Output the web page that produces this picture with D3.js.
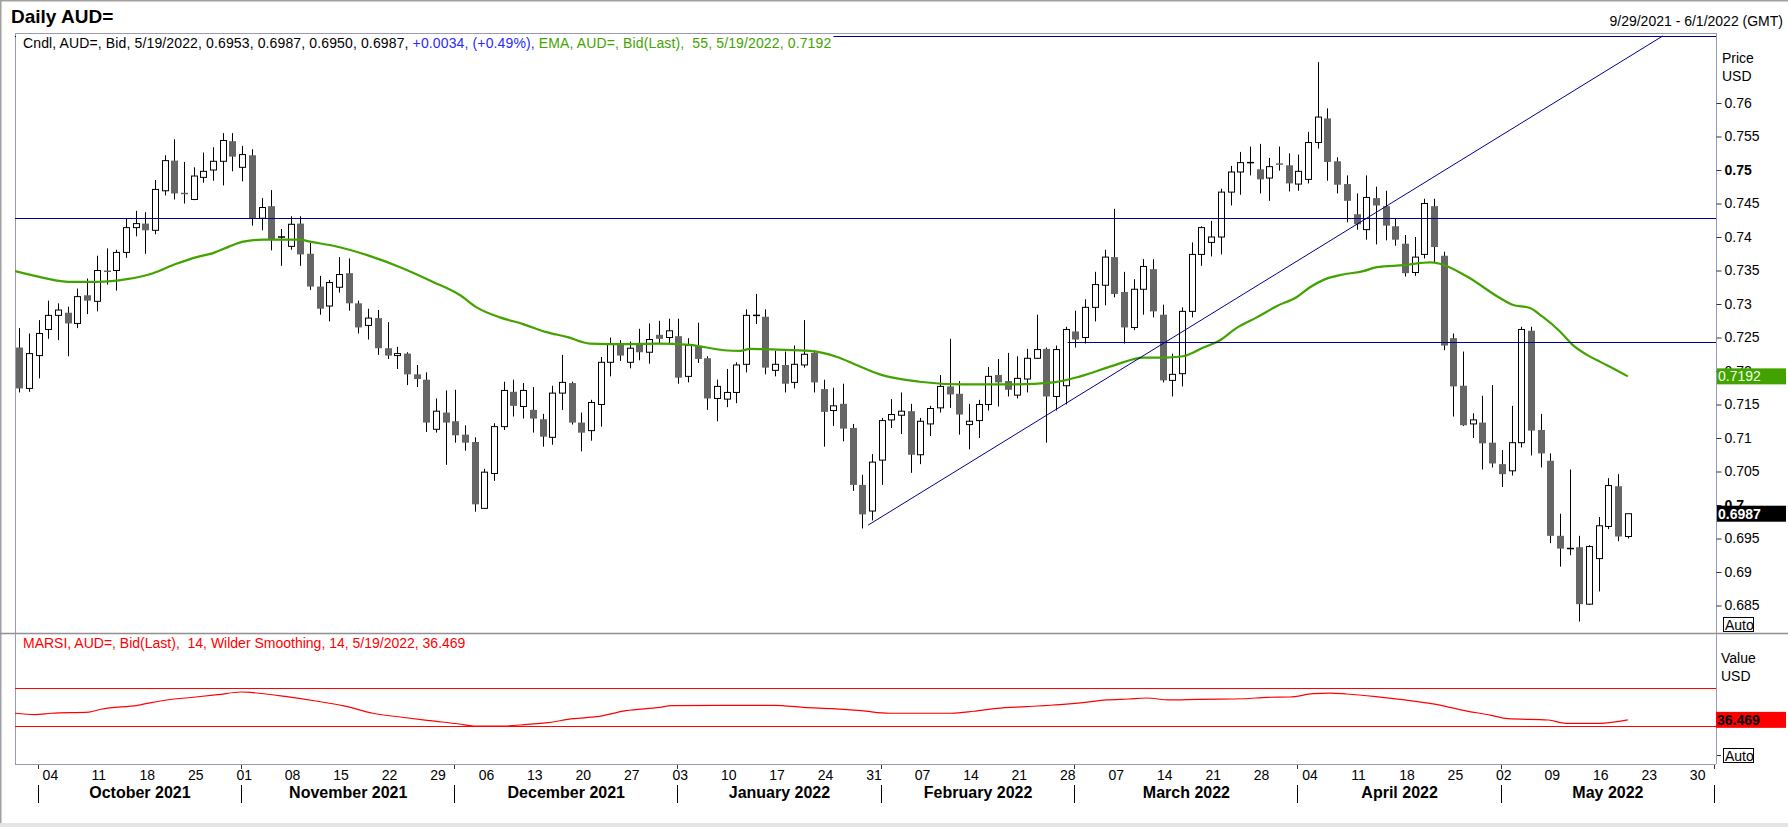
<!DOCTYPE html>
<html>
<head>
<meta charset="utf-8">
<title>Daily AUD=</title>
<script src="https://cdn.jsdelivr.net/npm/d3@7"></script>
<style>
  body { margin: 0; background: #fff; }
  svg { display: block; font-family: "Liberation Sans", Arial, sans-serif; }
  text { white-space: pre; }
</style>
</head>
<body>
<div id="chart"></div>
<script>
// daily AUD= candles, one per weekday from 9/29/2021 to 5/19/2022
var opens = [
  0.7235,0.7174,0.7223,0.7262,0.7283,0.7287,0.7271,0.7313,0.7304,0.7350,
  0.7350,0.7377,0.7414,0.7420,0.7410,0.7469,0.7514,0.7466,0.7456,0.7489,
  0.7500,0.7513,0.7543,0.7504,0.7522,0.7428,0.7446,0.7400,0.7386,0.7420,
  0.7375,0.7326,0.7297,0.7325,0.7346,0.7301,0.7268,0.7279,0.7234,0.7223,
  0.7226,0.7195,0.7187,0.7113,0.7138,0.7125,0.7105,0.7094,0.6995,0.7047,
  0.7117,0.7169,0.7147,0.7142,0.7128,0.7101,0.7167,0.7182,0.7123,0.7111,
  0.7150,0.7213,0.7240,0.7213,0.7239,0.7228,0.7254,0.7250,0.7252,0.7192,
  0.7237,0.7219,0.7159,0.7158,0.7168,0.7210,0.7283,0.7281,0.7201,0.7209,
  0.7183,0.7209,0.7227,0.7173,0.7141,0.7151,0.7115,0.7030,0.6991,0.7067,
  0.7127,0.7134,0.7140,0.7075,0.7121,0.7145,0.7177,0.7166,0.7120,0.7126,
  0.7150,0.7194,0.7185,0.7164,0.7188,0.7219,0.7233,0.7162,0.7178,0.7259,
  0.7250,0.7295,0.7328,0.7370,0.7318,0.7265,0.7322,0.7352,0.7284,0.7186,
  0.7196,0.7289,0.7374,0.7392,0.7400,0.7467,0.7497,0.7511,0.7501,0.7488,
  0.7510,0.7507,0.7479,0.7486,0.7541,0.7577,0.7513,0.7479,0.7434,0.7411,
  0.7458,0.7446,0.7416,0.7390,0.7347,0.7374,0.7446,0.7372,0.7249,0.7178,
  0.7121,0.7123,0.7093,0.7061,0.7051,0.7093,0.7260,0.7112,0.7066,0.6954,
  0.6935,0.6937,0.6852,0.6920,0.6968,0.7028,0.6953
];
var highs = [
  0.7264,0.7256,0.7276,0.7305,0.7301,0.7296,0.7323,0.7338,0.7372,0.7383,
  0.7381,0.7428,0.7439,0.7437,0.7485,0.7522,0.7546,0.7512,0.7504,0.7526,
  0.7534,0.7555,0.7555,0.7536,0.7531,0.7458,0.7470,0.7412,0.7431,0.7431,
  0.7391,0.7342,0.7336,0.7370,0.7368,0.7305,0.7293,0.7291,0.7273,0.7236,
  0.7228,0.7209,0.7198,0.7159,0.7171,0.7172,0.7119,0.7101,0.7054,0.7122,
  0.7184,0.7187,0.7182,0.7176,0.7136,0.7178,0.7224,0.7184,0.7138,0.7157,
  0.7221,0.7250,0.7246,0.7244,0.7263,0.7271,0.7275,0.7278,0.7278,0.7249,
  0.7272,0.7222,0.7187,0.7203,0.7213,0.7292,0.7315,0.7292,0.7230,0.7229,
  0.7238,0.7276,0.7231,0.7187,0.7175,0.7181,0.7121,0.7045,0.7076,0.7130,
  0.7158,0.7168,0.7151,0.7130,0.7148,0.7194,0.7248,0.7185,0.7151,0.7157,
  0.7206,0.7218,0.7227,0.7222,0.7233,0.7284,0.7235,0.7238,0.7266,0.7290,
  0.7307,0.7348,0.7381,0.7442,0.7348,0.7337,0.7367,0.7367,0.7299,0.7226,
  0.7295,0.7392,0.7416,0.7424,0.7472,0.7506,0.7527,0.7535,0.7539,0.7518,
  0.7535,0.7525,0.7523,0.7557,0.7661,0.7592,0.7519,0.7492,0.7465,0.7492,
  0.7475,0.7469,0.7427,0.7403,0.7400,0.7457,0.7457,0.7378,0.7256,0.7229,
  0.7137,0.7163,0.7179,0.7082,0.7148,0.7266,0.7266,0.7136,0.7077,0.6987,
  0.7053,0.6954,0.6940,0.6982,0.7040,0.7046,0.6987
];
var lows = [
  0.7168,0.7169,0.7189,0.7248,0.7246,0.7222,0.7264,0.7285,0.7289,0.7329,
  0.7320,0.7369,0.7401,0.7375,0.7404,0.7462,0.7456,0.7450,0.7455,0.7481,
  0.7484,0.7477,0.7498,0.7483,0.7417,0.7410,0.7380,0.7357,0.7381,0.7357,
  0.7321,0.7284,0.7274,0.7317,0.7290,0.7256,0.7247,0.7224,0.7218,0.7203,
  0.7179,0.7176,0.7109,0.7108,0.7060,0.7093,0.7081,0.6990,0.6994,0.7036,
  0.7112,0.7132,0.7129,0.7108,0.7087,0.7090,0.7142,0.7120,0.7080,0.7096,
  0.7117,0.7192,0.7215,0.7204,0.7216,0.7211,0.7241,0.7241,0.7181,0.7183,
  0.7212,0.7142,0.7125,0.7146,0.7152,0.7198,0.7270,0.7195,0.7192,0.7168,
  0.7174,0.7205,0.7168,0.7087,0.7118,0.7095,0.7021,0.6965,0.6977,0.7030,
  0.7115,0.7106,0.7048,0.7061,0.7103,0.7138,0.7145,0.7105,0.7083,0.7100,
  0.7141,0.7147,0.7162,0.7159,0.7168,0.7218,0.7093,0.7141,0.7150,0.7235,
  0.7241,0.7274,0.7298,0.7310,0.7241,0.7261,0.7284,0.7280,0.7183,0.7162,
  0.7177,0.7280,0.7357,0.7371,0.7374,0.7447,0.7463,0.7492,0.7465,0.7454,
  0.7499,0.7468,0.7469,0.7480,0.7532,0.7484,0.7465,0.7422,0.7411,0.7396,
  0.7389,0.7395,0.7387,0.7341,0.7342,0.7368,0.7362,0.7231,0.7132,0.7118,
  0.7100,0.7053,0.7056,0.7027,0.7044,0.7086,0.7074,0.7056,0.6943,0.6908,
  0.6925,0.6826,0.6851,0.6871,0.6964,0.6946,0.6950
];
var closes = [
  0.7174,0.7226,0.7256,0.7283,0.7291,0.7271,0.7311,0.7305,0.7350,0.7348,
  0.7377,0.7414,0.7420,0.7410,0.7471,0.7514,0.7465,0.7464,0.7491,0.7498,
  0.7513,0.7544,0.7520,0.7523,0.7428,0.7444,0.7397,0.7400,0.7419,0.7374,
  0.7326,0.7293,0.7332,0.7344,0.7301,0.7265,0.7279,0.7234,0.7223,0.7226,
  0.7195,0.7188,0.7123,0.7140,0.7123,0.7104,0.7093,0.7001,0.7049,0.7117,
  0.7171,0.7148,0.7171,0.7129,0.7102,0.7167,0.7183,0.7123,0.7108,0.7153,
  0.7213,0.7240,0.7223,0.7234,0.7228,0.7247,0.7248,0.7260,0.7190,0.7238,
  0.7218,0.7159,0.7177,0.7168,0.7209,0.7283,0.7283,0.7205,0.7210,0.7181,
  0.7210,0.7225,0.7183,0.7139,0.7148,0.7114,0.7030,0.6986,0.7064,0.7126,
  0.7135,0.7140,0.7075,0.7125,0.7144,0.7177,0.7165,0.7135,0.7125,0.7150,
  0.7192,0.7183,0.7172,0.7189,0.7219,0.7232,0.7162,0.7232,0.7262,0.7247,
  0.7295,0.7329,0.7370,0.7315,0.7265,0.7322,0.7356,0.7289,0.7186,0.7195,
  0.7289,0.7374,0.7414,0.7400,0.7467,0.7497,0.7511,0.7511,0.7486,0.7505,
  0.7508,0.7480,0.7498,0.7541,0.7579,0.7512,0.7478,0.7454,0.7419,0.7459,
  0.7447,0.7417,0.7396,0.7346,0.7370,0.7450,0.7385,0.7238,0.7177,0.7119,
  0.7127,0.7092,0.7062,0.7046,0.7093,0.7262,0.7111,0.7077,0.6954,0.6935,
  0.6935,0.6852,0.6938,0.6969,0.7029,0.6953,0.6987
];

// EMA(55): trading-day index / value
var emaIdx = [-0.44,2.5,5.1,8,11.1,13.8,16.2,18.3,20,21.7,23.1,25.2,29,30,32.4,35.9,39.3,42.7,45.5,47.2,
  49.6,52,54.4,56.5,58.9,62.3,65.8,69.2,72.7,74.4,75.4,78.2,81.6,84.4,86.4,88.8,92.9,97.4,102.6,106.7,
  109.5,112.9,116,118.1,120.1,122.2,123.9,125.6,127.7,129.8,131.8,133.2,134.6,136.6,138.7,140.1,142.9,145.6,146.6,149.4,
  152.8,154.1,155.9,157.2,159,160.3,161.8,163.1,163.8,166];
var emaVal = [0.7349,0.7339,0.7333,0.7333,0.7337,0.7346,0.7360,0.7370,0.7376,0.7386,0.7393,0.7396,0.7396,0.7393,0.7387,0.7373,0.7355,0.7333,0.7313,0.7295,
  0.7280,0.7270,0.7258,0.7251,0.7241,0.7240,0.7241,0.7239,0.7231,0.7230,0.7233,0.7232,0.7230,0.7221,0.7209,0.7195,0.7184,0.7180,0.7180,0.7183,
  0.7192,0.7208,0.7220,0.7220,0.7222,0.7235,0.7246,0.7264,0.7280,0.7297,0.7310,0.7325,0.7336,0.7344,0.7349,0.7355,0.7358,0.7362,0.7360,0.7341,
  0.7309,0.7299,0.7294,0.7281,0.7259,0.7239,0.7224,0.7214,0.7209,0.7192];

// MARSI(14)
var rsiIdx = [-0.44,1.6,3.3,7.2,8.4,12.2,15.2,18.2,20.5,22.9,24.1,27.6,30.6,33.5,36.5,39.5,42.4,45.4,46.9,50.1,
  52.5,54.3,57.2,59.6,62.6,66.1,67.3,72.1,78,80.9,83.9,86.9,89.8,96.2,98.5,100.9,103.9,107.4,109.8,112.2,
  114.5,116.3,118.7,121.6,126.4,128.8,131.1,133.5,135.3,137,140,143,145.9,148.9,151.9,153.6,157.8,159.6,163.1,166];
var rsiVal = [43.4,41.9,43.4,44.7,47.6,51.8,57.4,60.5,63.0,65.8,65.1,60.9,56.3,51.1,43.4,39.2,35.6,32.1,30.0,30.0,
  31.8,33.2,37.7,39.8,46.1,49.6,51.4,51.8,51.8,49.6,48.2,46.1,43.4,43.4,45.5,48.6,50.4,52.5,54.6,57.4,
  58.4,59.5,57.4,58.1,58.7,60.2,60.5,64.0,64.7,63.7,60.9,57.4,53.2,46.8,41.2,37.7,36.3,32.8,32.8,36.469];
var rsiLevels = [70, 30];

// drawings on the price panel
var levelLines = [0.7700, 0.7428];
var supportStart = 108.2;
var supportLevel = 0.7243;
var trendIdx = [87.6, 169.6];
var trendVal = [0.6970, 0.7700];

// axis labels
var priceTicks = [0.685,0.69,0.695,0.7,0.705,0.71,0.715,0.72,0.725,0.73,0.735,0.74,0.745,0.75,0.755,0.76];
var boldTicks = [0.7, 0.75];
var monthNames = ["October 2021","November 2021","December 2021","January 2022",
  "February 2022","March 2022","April 2022","May 2022"];
var lastClose = 0.6987;
var lastEma = 0.7192;
var lastRsi = 36.469;

var svgWidth = 1788;
var svgHeight = 827;
var font = "'Liberation Sans', Arial, sans-serif";
var navy = "#00008c";
var green = "#42a300";
var axisGray = "#9a9ab4";

// weekday calendar from 9/29/2021 to 6/1/2022
var tradingDays = d3.timeDay.range(new Date(2021, 8, 29), new Date(2022, 5, 2))
  .filter(d => d.getDay() !== 0 && d.getDay() !== 6);

var candles = opens.map(function(o, i) {
  return { i: i, date: tradingDays[i], open: o, high: highs[i], low: lows[i], close: closes[i] };
});

var svg = d3.select("#chart")
  .append("svg")
  .attr("width", svgWidth)
  .attr("height", svgHeight);

svg.append("rect").attr("width", svgWidth).attr("height", svgHeight).attr("fill", "#fff");

// scales
var x = d3.scaleLinear().domain([-0.444, 175.1]).range([15, 1716]);
var y = d3.scaleLinear().domain([0.685, 0.76]).range([605.5, 103]);
var yRsi = d3.scaleLinear().domain([30, 70]).range([726, 688]);

// snap a coordinate to the pixel grid for 1px lines
function crisp(v) { return Math.round(v) + 0.5; }

var defs = svg.append("defs");
defs.append("clipPath").attr("id", "clipMain")
  .append("rect").attr("x", 15).attr("y", 33).attr("width", 1701).attr("height", 600);
defs.append("clipPath").attr("id", "clipRsi")
  .append("rect").attr("x", 15).attr("y", 634).attr("width", 1701).attr("height", 130);

// window frame
svg.append("line").attr("x1", 0).attr("x2", svgWidth).attr("y1", 0.5).attr("y2", 0.5)
  .attr("stroke", "#a0a0a0").attr("stroke-width", 2);
svg.append("line").attr("x1", 0.5).attr("x2", 0.5).attr("y1", 0).attr("y2", svgHeight)
  .attr("stroke", "#a0a0a0").attr("stroke-width", 2);
svg.append("rect").attr("x", 0).attr("y", 823).attr("width", svgWidth).attr("height", 4).attr("fill", "#e4e4e4");

// panel borders
svg.append("line").attr("x1", 15).attr("x2", 1716).attr("y1", 33.5).attr("y2", 33.5).attr("stroke", axisGray);
svg.append("line").attr("x1", 15.5).attr("x2", 15.5).attr("y1", 33).attr("y2", 764).attr("stroke", axisGray);
svg.append("line").attr("x1", 1716.5).attr("x2", 1716.5).attr("y1", 33).attr("y2", 764).attr("stroke", axisGray);
svg.append("line").attr("x1", 0).attr("x2", svgWidth).attr("y1", 633.5).attr("y2", 633.5)
  .attr("stroke", "#909090").attr("stroke-width", 1.5);
svg.append("line").attr("x1", 15).attr("x2", 1716).attr("y1", 764.5).attr("y2", 764.5).attr("stroke", axisGray);

// title and date range
svg.append("text").attr("x", 11).attr("y", 23)
  .style("font-size", "19px").style("font-weight", "bold").attr("fill", "#000")
  .text("Daily AUD=");
svg.append("text").attr("x", 1783).attr("y", 26).attr("text-anchor", "end")
  .style("font-size", "14px").attr("fill", "#000")
  .text("9/29/2021 - 6/1/2022 (GMT)");

// ---- price panel ----
var mainGroup = svg.append("g").attr("clip-path", "url(#clipMain)");

// wicks
mainGroup.selectAll(".wick")
  .data(candles)
  .enter()
  .append("line")
  .attr("class", "wick")
  .attr("x1", d => Math.round(x(d.i)) + 0.5)
  .attr("x2", d => Math.round(x(d.i)) + 0.5)
  .attr("y1", d => y(d.high))
  .attr("y2", d => y(d.low))
  .attr("stroke", "#000")
  .attr("stroke-width", 1);

// falling bodies (gray)
mainGroup.selectAll(".down")
  .data(candles.filter(d => d.close < d.open))
  .enter()
  .append("rect")
  .attr("class", "down")
  .attr("x", d => Math.round(x(d.i)) - 3)
  .attr("y", d => y(d.open))
  .attr("width", 7)
  .attr("height", d => Math.max(1.5, y(d.close) - y(d.open)))
  .attr("fill", "#666666");

// rising bodies (hollow)
mainGroup.selectAll(".up")
  .data(candles.filter(d => d.close > d.open))
  .enter()
  .append("rect")
  .attr("class", "up")
  .attr("x", d => Math.round(x(d.i)) - 2.5)
  .attr("y", d => y(d.close))
  .attr("width", 6)
  .attr("height", d => Math.max(1, y(d.open) - y(d.close)))
  .attr("fill", "#fff")
  .attr("stroke", "#000")
  .attr("stroke-width", 1);

// doji crosses
mainGroup.selectAll(".doji")
  .data(candles.filter(d => d.close === d.open))
  .enter()
  .append("line")
  .attr("class", "doji")
  .attr("x1", d => Math.round(x(d.i)) - 3)
  .attr("x2", d => Math.round(x(d.i)) + 4)
  .attr("y1", d => y(d.close))
  .attr("y2", d => y(d.close))
  .attr("stroke", "#000")
  .attr("stroke-width", 1.5);

// EMA line
var emaLine = d3.line()
  .x(d => x(d[0]))
  .y(d => y(d[1]))
  .curve(d3.curveMonotoneX);
mainGroup.append("path")
  .datum(d3.zip(emaIdx, emaVal))
  .attr("d", emaLine)
  .attr("fill", "none")
  .attr("stroke", green)
  .attr("stroke-width", 2.2);

// drawings: horizontal levels, support from March, trend line
mainGroup.selectAll(".level")
  .data(levelLines)
  .enter()
  .append("line")
  .attr("class", "level")
  .attr("x1", x(-0.444)).attr("x2", 1716)
  .attr("y1", d => crisp(y(d))).attr("y2", d => crisp(y(d)))
  .attr("stroke", navy).attr("stroke-width", 1);
mainGroup.append("line")
  .attr("x1", x(supportStart)).attr("x2", 1716)
  .attr("y1", crisp(y(supportLevel))).attr("y2", crisp(y(supportLevel)))
  .attr("stroke", navy).attr("stroke-width", 1);
mainGroup.append("line")
  .attr("x1", x(trendIdx[0])).attr("y1", y(trendVal[0]))
  .attr("x2", x(trendIdx[1])).attr("y2", y(trendVal[1]))
  .attr("stroke", navy).attr("stroke-width", 1);

// legend line with white background
var legendGroup = svg.append("g");
var legendText = legendGroup.append("text")
  .attr("x", 23).attr("y", 48)
  .style("font-size", "14px")
  .style("letter-spacing", "0.13px");
legendText.append("tspan").attr("fill", "#000")
  .text("Cndl, AUD=, Bid, 5/19/2022, 0.6953, 0.6987, 0.6950, 0.6987, ");
legendText.append("tspan").attr("fill", "#2a2aff")
  .text("+0.0034, (+0.49%), ");
legendText.append("tspan").attr("fill", green)
  .text("EMA, AUD=, Bid(Last),  55, 5/19/2022, 0.7192");
var bb = legendText.node().getBBox();
legendGroup.insert("rect", "text")
  .attr("x", 16).attr("y", 34)
  .attr("width", bb.x + bb.width + 2 - 16)
  .attr("height", bb.y + bb.height - 34)
  .attr("fill", "#fff");

// price axis
var priceAxis = d3.axisRight(y)
  .tickValues(priceTicks)
  .tickSize(5)
  .tickPadding(3)
  .tickFormat(d => String(d));
var yAxisGroup = svg.append("g")
  .attr("transform", "translate(1716.5,0)")
  .call(priceAxis);
yAxisGroup.select(".domain").remove();
yAxisGroup.selectAll(".tick line").attr("stroke", "#333");
yAxisGroup.selectAll(".tick text")
  .style("font-size", "14px")
  .style("font-family", font)
  .attr("fill", "#000")
  .style("font-weight", d => boldTicks.indexOf(d) >= 0 ? "bold" : "normal");

svg.append("text").attr("x", 1722).attr("y", 63).style("font-size", "14px").text("Price");
svg.append("text").attr("x", 1722).attr("y", 81).style("font-size", "14px").text("USD");

// last value tags
svg.append("rect").attr("x", 1717).attr("y", y(lastEma) - 8).attr("width", 69).attr("height", 16).attr("fill", green);
svg.append("text").attr("x", 1718).attr("y", y(lastEma) + 5).style("font-size", "14px").attr("fill", "#f0ffe8")
  .text(lastEma.toFixed(4));
svg.append("rect").attr("x", 1717).attr("y", y(lastClose) - 8).attr("width", 69).attr("height", 16).attr("fill", "#000");
svg.append("text").attr("x", 1718).attr("y", y(lastClose) + 5).style("font-size", "14px")
  .style("font-weight", "bold").attr("fill", "#fff")
  .text(lastClose.toFixed(4));

// Auto buttons
function autoBox(top) {
  svg.append("rect").attr("x", 1723.5).attr("y", top + 0.5).attr("width", 30).attr("height", 14)
    .attr("fill", "#fff").attr("stroke", "#000");
  svg.append("text").attr("x", 1725).attr("y", top + 12.5).style("font-size", "14px").text("Auto");
}
autoBox(617);
autoBox(748);
svg.append("line").attr("x1", 1717).attr("x2", 1721).attr("y1", 755.5).attr("y2", 755.5).attr("stroke", "#333");

// ---- RSI panel ----
var rsiGroup = svg.append("g").attr("clip-path", "url(#clipRsi)");

rsiGroup.selectAll(".rsiLevel")
  .data(rsiLevels)
  .enter()
  .append("line")
  .attr("class", "rsiLevel")
  .attr("x1", 15).attr("x2", 1716)
  .attr("y1", d => crisp(yRsi(d))).attr("y2", d => crisp(yRsi(d)))
  .attr("stroke", "#ff0000").attr("stroke-width", 1);

var rsiLine = d3.line()
  .x(d => x(d[0]))
  .y(d => yRsi(d[1]))
  .curve(d3.curveMonotoneX);
rsiGroup.append("path")
  .datum(d3.zip(rsiIdx, rsiVal))
  .attr("d", rsiLine)
  .attr("fill", "none")
  .attr("stroke", "#ff0000")
  .attr("stroke-width", 1.2);

svg.append("text").attr("x", 23).attr("y", 648).style("font-size", "14px").attr("fill", "#ff0000")
  .text("MARSI, AUD=, Bid(Last),  14, Wilder Smoothing, 14, 5/19/2022, 36.469");

svg.append("text").attr("x", 1721).attr("y", 663).style("font-size", "14px").text("Value");
svg.append("text").attr("x", 1721).attr("y", 681).style("font-size", "14px").text("USD");

svg.append("rect").attr("x", 1716).attr("y", yRsi(lastRsi) - 8).attr("width", 70).attr("height", 16).attr("fill", "#ff0000");
svg.append("text").attr("x", 1717).attr("y", yRsi(lastRsi) + 5).style("font-size", "14px")
  .style("font-weight", "bold").attr("fill", "#000")
  .text(lastRsi.toFixed(3));

// ---- date axis ----
var mondays = d3.range(tradingDays.length).filter(i => tradingDays[i].getDay() === 1);
var monthStarts = d3.range(1, tradingDays.length)
  .filter(i => tradingDays[i].getMonth() !== tradingDays[i - 1].getMonth());

var dateAxis = d3.axisBottom(x)
  .tickValues(mondays)
  .tickSize(0)
  .tickPadding(6)
  .tickFormat(i => d3.timeFormat("%d")(tradingDays[i]));
var xAxisGroup = svg.append("g")
  .attr("transform", "translate(1.5,764)")
  .call(dateAxis);
xAxisGroup.select(".domain").remove();
xAxisGroup.selectAll(".tick text")
  .style("font-size", "14px")
  .style("font-family", font)
  .attr("fill", "#000");

// month boundary ticks and separators
svg.selectAll(".mtick")
  .data(monthStarts)
  .enter()
  .append("line")
  .attr("class", "mtick")
  .attr("x1", d => Math.round(x(d)) - 0.5).attr("x2", d => Math.round(x(d)) - 0.5)
  .attr("y1", 765).attr("y2", 769)
  .attr("stroke", "#333");
svg.selectAll(".msep")
  .data(monthStarts)
  .enter()
  .append("line")
  .attr("class", "msep")
  .attr("x1", d => Math.round(x(d)) - 0.5).attr("x2", d => Math.round(x(d)) - 0.5)
  .attr("y1", 785).attr("y2", 803)
  .attr("stroke", "#000");

svg.selectAll(".mlabel")
  .data(monthNames)
  .enter()
  .append("text")
  .attr("class", "mlabel")
  .attr("x", (d, k) => (x(monthStarts[k]) + x(monthStarts[k + 1])) / 2 - 0.5)
  .attr("y", 798)
  .attr("text-anchor", "middle")
  .style("font-size", "16px")
  .style("font-weight", "bold")
  .text(d => d);
</script>
</body>
</html>
